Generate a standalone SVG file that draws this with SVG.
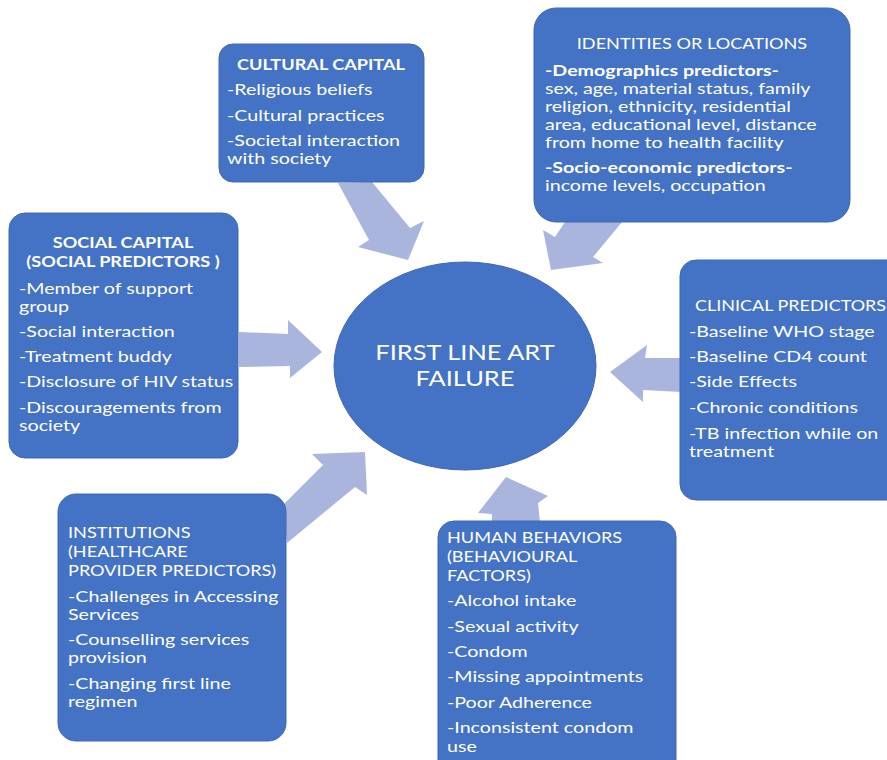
<svg xmlns="http://www.w3.org/2000/svg" width="887" height="760" viewBox="0 0 887 760">
<style>
.box{fill:#4472C4;stroke:#3E68B5;stroke-width:1}
.arr{fill:#A9B5DC}
text{font-family:Lato,"Open Sans","Liberation Sans",sans-serif;fill:#FFFFFF;font-size:15px}
.b{font-weight:bold}
.c{text-anchor:middle}
.big{font-size:20.5px}
</style>
<rect width="887" height="760" fill="#FFFFFF"/>
<g id="connectors">
<polygon class="arr" points="338,183 372,182 410,228 424,221 408,260 358,247 369,240"/>
<polygon class="arr" points="565,222 622,222 593,257 603,263 551,270 543,230 555,237"/>
<polygon class="arr" points="239,332 288,334 288,320 322,352 290,378 290,366 239,367"/>
<polygon class="arr" points="610,372 647,345 645,358 681,358 681,392 643,390 643,402"/>
<polygon class="arr" points="283,505 323,465 312,454 365,452 367,495 355,487 287,543"/>
<polygon class="arr" points="506,477 548,496 538,503 540,523 492,523 492,514 478,513"/>
</g>
<g id="center">
<ellipse cx="465" cy="366" rx="131" ry="104" class="box"/>
<g transform="translate(465 0) scale(1.24 1)">
<text class="c big" x="0" y="360">FIRST LINE ART</text>
<text class="c big" x="0" y="386">FAILURE</text>
</g>
</g>
<g id="cultural">
<rect class="box" x="219" y="44" width="205" height="138" rx="14"/>
<g transform="translate(321 0) scale(1.21 1)">
<text class="b c" x="0" y="70">CULTURAL CAPITAL</text>
</g>
<g transform="translate(227 0) scale(1.31 1)">
<text x="0" y="95">-Religious beliefs</text>
<text x="0" y="121">-Cultural practices</text>
<text x="0" y="146">-Societal interaction</text>
<text x="0" y="164">with society</text>
</g>
</g>
<g id="identities">
<rect class="box" x="534" y="8" width="316" height="214" rx="22"/>
<g transform="translate(692 0) scale(1.21 1)">
<text class="c" x="0" y="49">IDENTITIES OR LOCATIONS</text>
</g>
<g transform="translate(545 0) scale(1.31 1)">
<text class="b" x="0" y="76">-Demographics predictors-</text>
<text x="0" y="94">sex, age, material status, family</text>
<text x="0" y="112">religion, ethnicity, residential</text>
<text x="0" y="130">area, educational level, distance</text>
<text x="0" y="148">from home to health facility</text>
<text class="b" x="0" y="173">-Socio-economic predictors-</text>
<text x="0" y="191">income levels, occupation</text>
</g>
</g>
<g id="social">
<rect class="box" x="9" y="213" width="229" height="245" rx="16"/>
<g transform="translate(123 0) scale(1.21 1)">
<text class="b c" x="0" y="248">SOCIAL CAPITAL</text>
<text class="b c" x="0" y="267">(SOCIAL PREDICTORS )</text>
</g>
<g transform="translate(19 0) scale(1.31 1)">
<text x="0" y="294">-Member of support</text>
<text x="0" y="312">group</text>
<text x="0" y="337">-Social interaction</text>
<text x="0" y="362">-Treatment buddy</text>
<text x="0" y="387">-Disclosure of HIV status</text>
<text x="0" y="413">-Discouragements from</text>
<text x="0" y="431">society</text>
</g>
</g>
<g id="clinical">
<rect class="box" x="680" y="260" width="230" height="240" rx="16"/>
<g transform="translate(695 0) scale(1.2 1)">
<text x="0" y="311">CLINICAL PREDICTORS</text>
</g>
<g transform="translate(689 0) scale(1.31 1)">
<text x="0" y="337">-Baseline WHO stage</text>
<text x="0" y="362">-Baseline CD4 count</text>
<text x="0" y="387">-Side Effects</text>
<text x="0" y="413">-Chronic conditions</text>
<text x="0" y="439">-TB infection while on</text>
<text x="0" y="457">treatment</text>
</g>
</g>
<g id="institutions">
<rect class="box" x="58" y="494" width="228" height="247" rx="18"/>
<g transform="translate(68 0) scale(1.21 1)">
<text x="0" y="538">INSTITUTIONS</text>
<text x="0" y="557">(HEALTHCARE</text>
<text x="0" y="576">PROVIDER PREDICTORS)</text>
</g>
<g transform="translate(68 0) scale(1.31 1)">
<text x="0" y="602">-Challenges in Accessing</text>
<text x="0" y="620">Services</text>
<text x="0" y="645">-Counselling services</text>
<text x="0" y="663">provision</text>
<text x="0" y="689">-Changing first line</text>
<text x="0" y="707">regimen</text>
</g>
</g>
<g id="human">
<rect class="box" x="438" y="521" width="238" height="260" rx="16"/>
<g transform="translate(447 0) scale(1.21 1)">
<text x="0" y="543">HUMAN BEHAVIORS</text>
<text x="0" y="562">(BEHAVIOURAL</text>
<text x="0" y="581">FACTORS)</text>
</g>
<g transform="translate(447 0) scale(1.31 1)">
<text x="0" y="606">-Alcohol intake</text>
<text x="0" y="632">-Sexual activity</text>
<text x="0" y="657">-Condom</text>
<text x="0" y="682">-Missing appointments</text>
<text x="0" y="708">-Poor Adherence</text>
<text x="0" y="733">-Inconsistent condom</text>
<text x="0" y="752">use</text>
</g>
</g>
</svg>
